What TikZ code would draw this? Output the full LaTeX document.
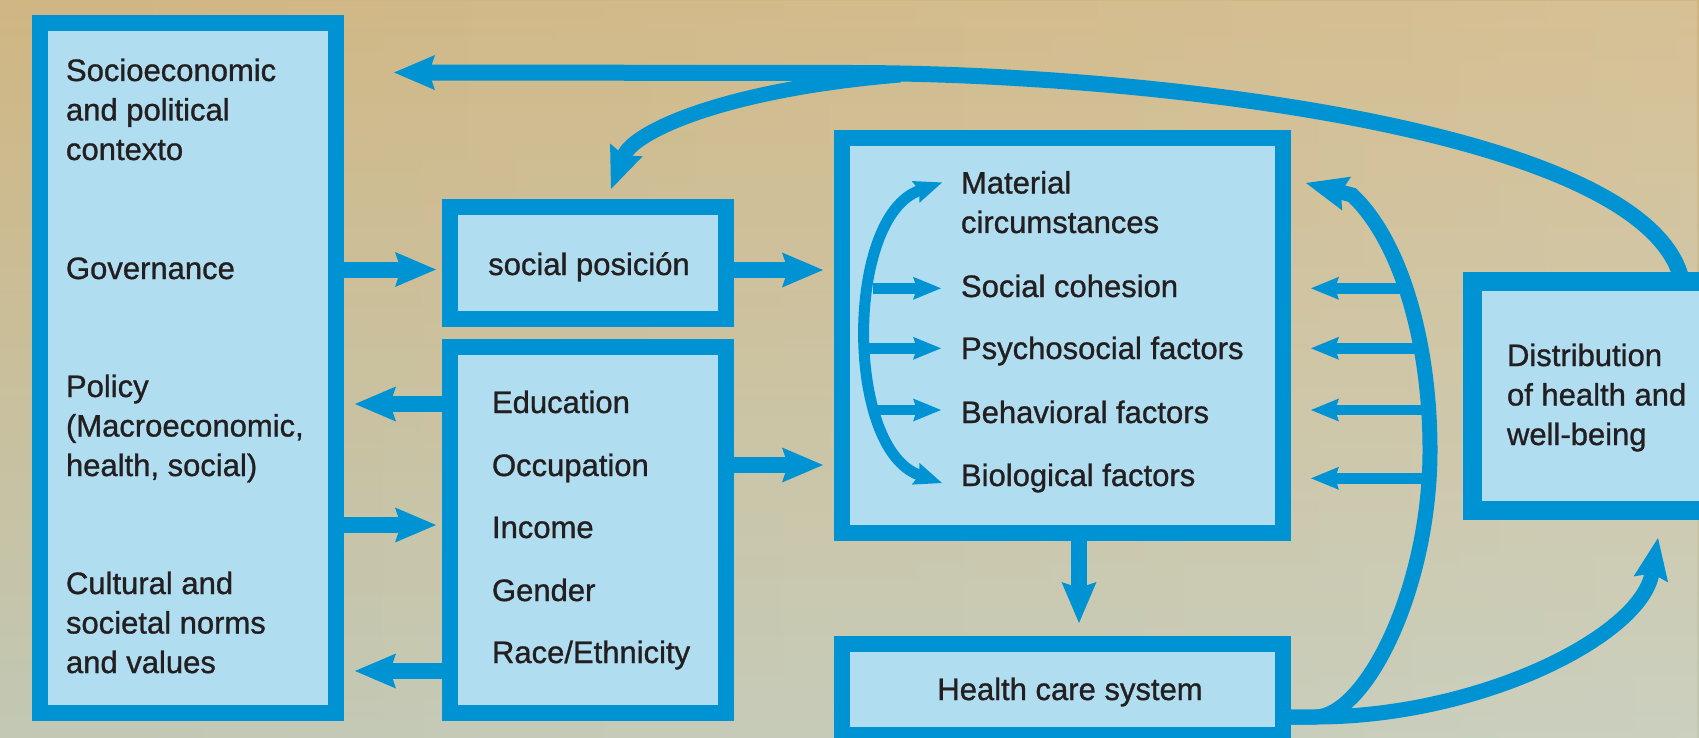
\documentclass[tikz,border=0pt]{standalone}
\usepackage{fontspec}
\setmainfont{Liberation Sans}[RawFeature={embolden=1}]
\usetikzlibrary{arrows.meta,calc,fadings}
\definecolor{bluebd}{HTML}{0093D3}
\definecolor{bluefill}{HTML}{B0DDF0}
\definecolor{txt}{HTML}{231F20}
\definecolor{bgtop}{HTML}{D0B683}
\definecolor{bgbot}{HTML}{C2C8B4}
\tikzfading[name=fadeR, left color=transparent!100, right color=transparent!0]
\begin{document}
\begin{tikzpicture}[x=1pt,y=-1pt,
  box/.style={draw=bluebd, fill=bluefill, line width=16pt, rectangle, inner sep=0pt, outer sep=0pt},
  lbl/.style={text=txt, font=\fontsize{31}{39.5}\selectfont, inner sep=0pt, outer sep=0pt, align=left, anchor=base west},
  big/.style={draw=bluebd, line width=16pt, -{Stealth[length=41pt,width=35pt,inset=6pt,line width=0pt]}},
  curv/.style={draw=bluebd, line width=15pt, -{Stealth[length=42pt,width=35pt,inset=6pt,line width=0pt]}},
  thinar/.style={draw=bluebd, line width=10.5pt, -{Stealth[length=28pt,width=23pt,inset=4pt,line width=0pt]}},
]
\useasboundingbox (0,0) rectangle (1699,738);
\clip (0,0) rectangle (1699,738);
\shade[top color=bgtop, bottom color=bgbot] (0,0) rectangle (1699,738);
\fill[white, opacity=0.15, path fading=fadeR] (0,0) rectangle (1699,738);

% boxes
\node[box, minimum width=296pt, minimum height=690pt] (L) at (188,368) {};
\node[box, minimum width=276pt, minimum height=112pt] (SP) at (588,263) {};
\node[box, minimum width=276pt, minimum height=366pt] (ED) at (588,530) {};
\node[box, minimum width=441pt, minimum height=395pt] (MA) at (1062.5,335.5) {};
\node[box, minimum width=441pt, minimum height=91pt] (HC) at (1062.5,689.5) {};
\node[box, line width=19pt, minimum width=248pt, minimum height=229pt] (DI) at (1596.5,396) {};

% left box texts (anchor = baseline of last line)
\node[lbl] (t1) at (66,160) {Socioeconomic\\and political\\contexto};
\node[lbl] (t2) at (66,279) {Governance};
\node[lbl] (t3) at (66,476) {Policy\\(Macroeconomic,\\health, social)};
\node[lbl] (t4) at (66,673) {Cultural and\\societal norms\\and values};
% social position
\node[lbl, anchor=base] (sp) at (589,275) {social posición};
% education box
\node[lbl] (e1) at (492,413) {Education};
\node[lbl] (e2) at (492,476) {Occupation};
\node[lbl] (e3) at (492,538) {Income};
\node[lbl] (e4) at (492,601) {Gender};
\node[lbl] (e5) at (492,663) {Race/Ethnicity};
% material box
\node[lbl] (m1) at (961,233) {Material\\circumstances};
\node[lbl] (m2) at (961,297) {Social cohesion};
\node[lbl] (m3) at (961,359) {Psychosocial factors};
\node[lbl] (m4) at (961,423) {Behavioral factors};
\node[lbl] (m5) at (961,486) {Biological factors};
% distribution
\node[lbl] (d1) at (1507,445) {Distribution\\of health and\\well-being};
% health care
\node[lbl, anchor=base] (hc) at (1070,700) {Health care system};

% straight thick arrows
\draw[big] (L.east |- 0,269.5) -- ($(SP.west |- 0,269.5)+(-14,0)$);
\draw[big] (SP.east |- 0,270) -- ($(MA.west |- 0,270)+(-19,0)$);
\draw[big] (ED.west |- 0,404) -- ($(L.east |- 0,404)+(19,0)$);
\draw[big] (L.east |- 0,525) -- ($(ED.west |- 0,525)+(-14,0)$);
\draw[big] (ED.west |- 0,671) -- ($(L.east |- 0,671)+(19,0)$);
\draw[big] (ED.east |- 0,465) -- ($(MA.west |- 0,465)+(-19,0)$);
\draw[big] (MA.south -| 1079,0) -- ($(HC.north -| 1079,0)+(0,-21)$);

% feedback from distribution to context
\coordinate (topTip) at ($(L.east |- 0,72.5)+(58,0)$);
\coordinate (midTop) at (850,73);
\draw[big] (DI.north -| 1682,0) .. controls (1650,130) and (1150,73) .. (midTop) -- (topTip);
\coordinate (brStart) at (900,75);
\draw[curv] (brStart) .. controls (720,90) and (633,133) .. ($(SP.north)+(23,-18)$);

% health care system outputs
\coordinate (hcJ) at (1315,717);
\coordinate (arcTop) at (1352,195);
\coordinate (tipR) at ($(MA.north east)+(23,45)$);
\draw[curv] (HC.east |- 0,717) -- (hcJ) .. controls (1365,717) and (1430,590) .. (1430,450)
   .. controls (1430,340) and (1400,240) .. (arcTop) -- (tipR);
\draw[curv] (HC.east |- 0,717) -- (hcJ) .. controls (1480,717) and (1641,636) .. ($(DI.south)+(61.5,27.5)$);

% small arrows right of material box
\draw[thinar] (1407,288.3) -- ($(MA.east |- 0,288.3)+(28,0)$);
\draw[thinar] (1422,348.3) -- ($(MA.east |- 0,348.3)+(28,0)$);
\draw[thinar] (1429,410) -- ($(MA.east |- 0,410)+(28,0)$);
\draw[thinar] (1430,478.3) -- ($(MA.east |- 0,478.3)+(28,0)$);

% arc inside material box
\draw[draw=bluebd, line width=11pt, {Stealth[length=28pt,width=23pt,inset=4pt,line width=0pt]}-{Stealth[length=28pt,width=23pt,inset=4pt,line width=0pt]}]
  ($(m1.base west)+(-19,-50.5)$) .. controls (845,217) and (845,449) .. ($(m5.base west)+(-19,-3)$);
\draw[thinar] (873,288.3) -- ($(m2.base west)+(-20,-8.7)$);
\draw[thinar] (869,348.3) -- ($(m3.base west)+(-20,-10.7)$);
\draw[thinar] (874,410) -- ($(m4.base west)+(-20,-13)$);
\end{tikzpicture}
\end{document}
